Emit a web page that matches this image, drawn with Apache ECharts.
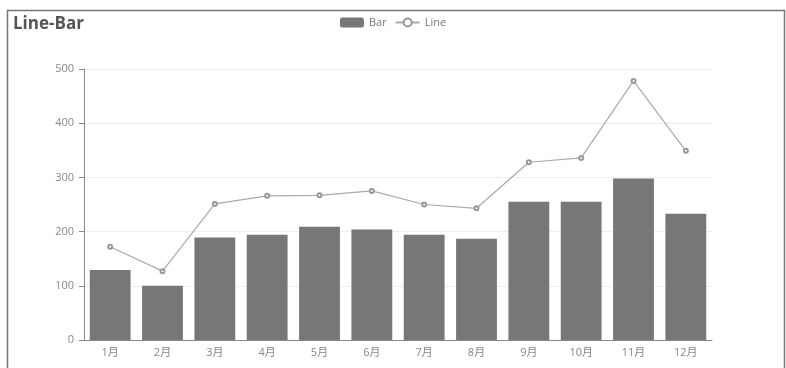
<!DOCTYPE html>
<html>
<head>
<meta charset="utf-8">
<script src="https://cdn.jsdelivr.net/npm/echarts@6/dist/echarts.min.js"></script>
<style>
  html, body { margin: 0; padding: 0; background: #fff; }
  #chart { width: 786px; height: 368px; }
</style>
</head>
<body>
<div id="chart"></div>
<script>
// Monthly categories and the two series
const months = ['1月', '2月', '3月', '4月', '5月', '6月', '7月', '8月', '9月', '10月', '11月', '12月'];
const barValues = [129, 100, 189, 194, 209, 204, 194, 187, 255, 255, 298, 233];
const lineValues = [172, 127, 251, 266, 267, 275, 250, 243, 328, 336, 478, 349];
const yTicks = [0, 100, 200, 300, 400, 500];

const font = '"Open Sans", "Noto Sans CJK SC", sans-serif';
const chart = echarts.init(document.getElementById('chart'));

chart.setOption({
  animation: false,
  backgroundColor: '#fff',
  textStyle: { fontFamily: font },
  title: {
    text: 'Line-Bar',
    left: 8,
    top: 11,
    textStyle: { fontSize: 17, fontWeight: 'bold', color: '#555', fontFamily: font }
  },
  legend: {
    top: 12,
    left: 'center',
    itemWidth: 24,
    itemHeight: 10,
    itemGap: 8,
    textStyle: { fontSize: 11, color: '#777', fontFamily: font },
    data: ['Bar', 'Line']
  },
  graphic: [{
    type: 'polyline',
    silent: true,
    shape: { points: [[7.5, 368], [7.5, 10.5], [784.5, 10.5], [784.5, 368]] },
    style: { stroke: '#777', lineWidth: 1.5, fill: null }
  }],
  grid: { left: 84, right: 74, top: 69, bottom: 28 },
  xAxis: {
    type: 'category',
    data: months,
    axisLine: { lineStyle: { color: '#888' } },
    axisTick: { lineStyle: { color: '#888' } },
    axisLabel: { color: '#888', fontSize: 11, margin: 7 }
  },
  yAxis: {
    type: 'value',
    min: yTicks[0],
    max: yTicks[yTicks.length - 1],
    interval: 100,
    axisLine: { show: true, lineStyle: { color: '#888' } },
    axisTick: { show: true, lineStyle: { color: '#888' } },
    axisLabel: { color: '#888', fontSize: 11, margin: 10 },
    splitLine: { lineStyle: { color: '#eee' } }
  },
  series: [
    {
      name: 'Bar',
      type: 'bar',
      data: barValues,
      barCategoryGap: '22%',
      itemStyle: { color: '#777' }
    },
    {
      name: 'Line',
      type: 'line',
      data: lineValues,
      symbol: 'emptyCircle',
      symbolSize: 4,
      lineStyle: { color: '#aaa', width: 1.2 },
      itemStyle: { color: '#999', borderColor: '#999' }
    }
  ]
});
</script>
</body>
</html>
